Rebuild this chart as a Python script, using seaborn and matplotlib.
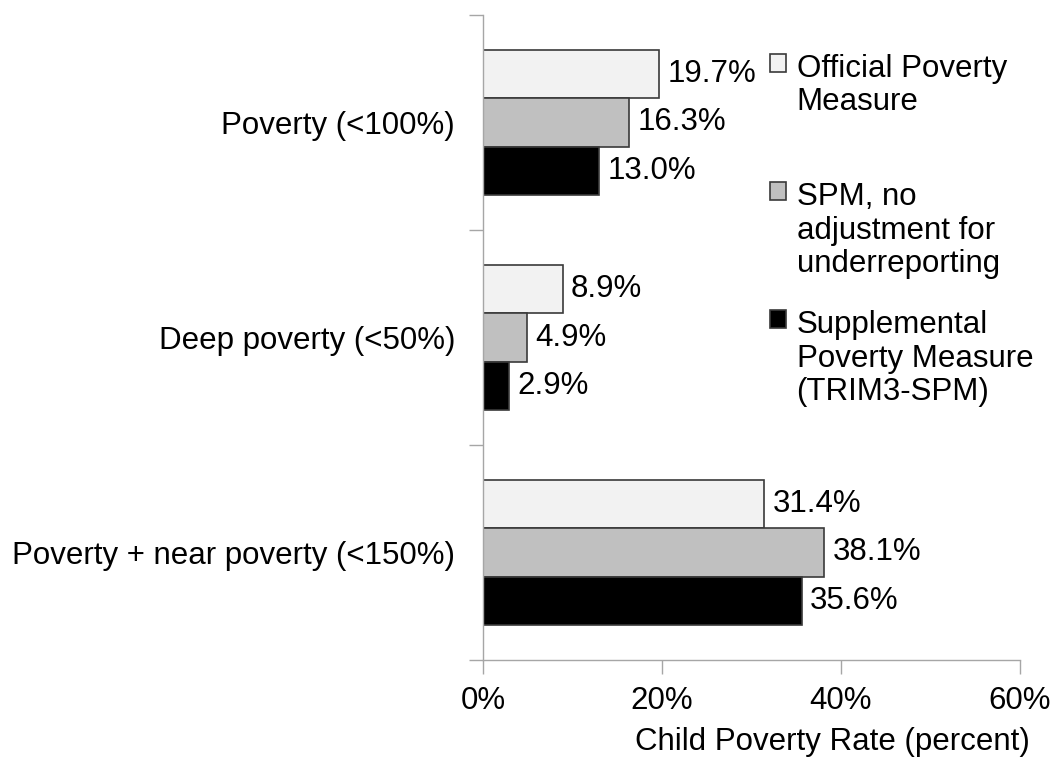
import numpy as np
import pandas as pd
import matplotlib
matplotlib.use("Agg")
import matplotlib.pyplot as plt
import seaborn as sns

categories = ["Poverty (<100%)", "Deep poverty (<50%)", "Poverty + near poverty (<150%)"]
measures = ["Official Poverty Measure", "SPM, no adjustment for underreporting",
            "Supplemental Poverty Measure (TRIM3-SPM)"]
legend_labels = ["Official Poverty\nMeasure\n", "SPM, no\nadjustment for\nunderreporting",
                 "Supplemental\nPoverty Measure\n(TRIM3-SPM)"]
official = [19.7, 8.9, 31.4]
spm_noadj = [16.3, 4.9, 38.1]
trim3_spm = [13.0, 2.9, 35.6]
bar_colors = ["#f2f2f2", "#c0c0c0", "#000000"]
xticks = [0, 20, 40, 60]

df = pd.DataFrame({
    "category": categories * 3,
    "measure": [measures[0]] * 3 + [measures[1]] * 3 + [measures[2]] * 3,
    "rate": official + spm_noadj + trim3_spm,
})

sns.set_theme(style="ticks")
plt.rcParams["font.family"] = ["Liberation Sans", "DejaVu Sans"]
fs = 22.5
axis_gray = "#a6a6a6"

fig = plt.figure(figsize=(10.53, 7.61), dpi=100)
ax = fig.add_axes([483 / 1053, 1 - 660 / 761, 537 / 1053, 645 / 761])

sns.barplot(data=df, x="rate", y="category", hue="measure", order=categories,
            hue_order=measures, palette=bar_colors, saturation=1, width=0.675,
            edgecolor="#3a3a3a", linewidth=1.2, orient="h", ax=ax, errorbar=None)

for cont in ax.containers:
    ax.bar_label(cont, fmt="%.1f%%", padding=6, fontsize=fs, color="black")

ax.set_xlim(0, 60)
ax.set_ylim(2.5, -0.5)
ax.set_xticks(xticks)
ax.set_xticklabels([f"{v}%" for v in xticks])
ax.set_yticks(range(len(categories)))
ax.set_yticklabels(categories)
ax.set_yticks([-0.5, 0.5, 1.5, 2.5], minor=True)
ax.tick_params(axis="y", which="major", length=0, pad=20, labelsize=fs, labelcolor="black")
ax.tick_params(axis="y", which="minor", length=10, width=1, color=axis_gray, direction="out")
ax.tick_params(axis="x", which="major", length=10, width=1, color=axis_gray, pad=9,
               labelsize=fs, labelcolor="black")
ax.set_ylabel("")
ax.set_xlabel("Child Poverty Rate (percent)", fontsize=fs, color="black")
ax.xaxis.set_label_coords(0.65, -0.104)

sns.despine(ax=ax, top=True, right=True)
for side in ["left", "bottom"]:
    ax.spines[side].set_color(axis_gray)
    ax.spines[side].set_linewidth(1)

handles, _ = ax.get_legend_handles_labels()
leg = ax.legend(handles, legend_labels, loc="upper left",
                bbox_to_anchor=(770 / 1053, 1 - 54 / 761), bbox_transform=fig.transFigure,
                frameon=False, fontsize=fs, handlelength=0.5, handleheight=0.5,
                handletextpad=0.35, labelspacing=1.0, borderpad=0, borderaxespad=0)
for t in leg.get_texts():
    t.set_linespacing(1.15)
    t.set_color("black")
for col in leg._legend_handle_box.get_children():
    for row in col.get_children():
        row.align = "top"

fig.savefig("out.png", dpi=100, facecolor="white")
